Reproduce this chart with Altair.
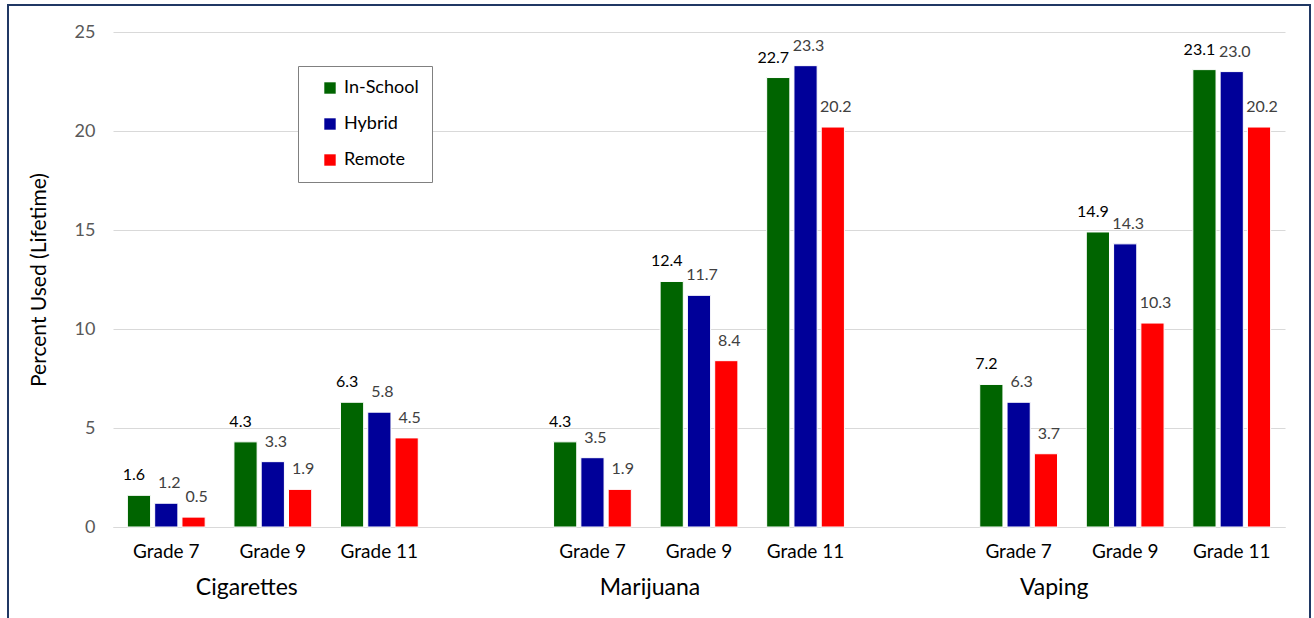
import altair as alt
import pandas as pd

substances = ["Cigarettes", "Marijuana", "Vaping"]
grades = ["Grade 7", "Grade 9", "Grade 11"]
modes = ["In-School", "Hybrid", "Remote"]
mode_colors = ["#006400", "#000099", "#FF0000"]

# values[substance][grade] = [In-School, Hybrid, Remote]
cigarettes = [[1.6, 1.2, 0.5], [4.3, 3.3, 1.9], [6.3, 5.8, 4.5]]
marijuana = [[4.3, 3.5, 1.9], [12.4, 11.7, 8.4], [22.7, 23.3, 20.2]]
vaping = [[7.2, 6.3, 3.7], [14.9, 14.3, 10.3], [23.1, 23.0, 20.2]]
series = {"Cigarettes": cigarettes, "Marijuana": marijuana, "Vaping": vaping}

FONT = "Lato"
W, H = 1172, 495

slots = []
for i, s in enumerate(substances):
    for g in grades:
        slots.append(f"{s}|{g}")
    if i < len(substances) - 1:
        slots.append(f"gap{i}")

rows = []
for s in substances:
    for gi, g in enumerate(grades):
        for mi, m in enumerate(modes):
            rows.append({"substance": s, "grade": g, "mode": m,
                         "value": series[s][gi][mi], "slot": f"{s}|{g}"})
df = pd.DataFrame(rows)

lab_df = pd.DataFrame({"substance": substances,
                       "slot": [f"{s}|Grade 9" for s in substances]})

x_enc = alt.X("slot:N", scale=alt.Scale(domain=slots, paddingInner=0.27, paddingOuter=0.135),
              axis=alt.Axis(title=None, labelAngle=0, ticks=False, domain=True,
                            domainColor="#d9d9d9", labelColor="#000000",
                            labelFontSize=19, labelPadding=15, labelFont=FONT,
                            labelExpr="indexof(datum.label,'|')>=0 ? split(datum.label,'|')[1] : ''"))
y_enc = alt.Y("value:Q", scale=alt.Scale(domain=[0, 25], range=[H, 0], nice=False),
              axis=alt.Axis(title="Percent Used (Lifetime)", values=[0, 5, 10, 15, 20, 25],
                            grid=True, gridColor="#d9d9d9", domain=False, ticks=False,
                            labelColor="#595959", labelFontSize=18, labelPadding=18,
                            labelFont=FONT, titleFont=FONT, titleFontSize=21,
                            titleFontWeight="normal", titleColor="#000000", titlePadding=25))
xoff = alt.XOffset("mode:N", sort=modes, scale=alt.Scale(domain=modes, paddingInner=0.15))

bars = alt.Chart(df).mark_bar(stroke="white", strokeWidth=1).encode(
    x=x_enc, y=y_enc, xOffset=xoff,
    color=alt.Color("mode:N", sort=modes,
                    scale=alt.Scale(domain=modes, range=mode_colors),
                    legend=alt.Legend(title=None, orient="none", legendX=185, legendY=34,
                                      strokeColor="#808080", fillColor="white", padding=13,
                                      symbolOffset=10,
                                      symbolType="square", symbolSize=130, symbolStrokeWidth=0,
                                      labelFontSize=18, labelFont=FONT, labelColor="#000000",
                                      rowPadding=18, labelOffset=5)),
)

label_style = {"In-School": ("#000000", -5), "Hybrid": ("#404040", 3), "Remote": ("#404040", 3)}
label_layers = []
for m in modes:
    col, shift = label_style[m]
    label_layers.append(
        alt.Chart(df).transform_filter(f"datum.mode == '{m}'").mark_text(
            fontSize=16, font=FONT, dy=-20, dx=shift, color=col).encode(
            x=alt.X("slot:N", scale=alt.Scale(domain=slots)), xOffset=xoff,
            y="value:Q", text=alt.Text("value:Q", format=".1f"))
    )

label_shift = {"Cigarettes": -26, "Marijuana": -49, "Vaping": -71}
group_layers = []
for s in substances:
    group_layers.append(
        alt.Chart(lab_df).transform_filter(f"datum.substance == '{s}'").mark_text(
            fontSize=23, font=FONT, color="#000000", dy=61, dx=label_shift[s]).encode(
            x=alt.X("slot:N", scale=alt.Scale(domain=slots)), y=alt.datum(0),
            text="substance:N")
    )

frame = alt.Chart(lab_df).mark_rect(fill=None, stroke="#203864", strokeWidth=2).encode(
    x=alt.value(-105), x2=alt.value(1197), y=alt.value(-27), y2=alt.value(640))

chart = alt.layer(bars, *label_layers, *group_layers, frame).properties(
    width=W, height=H,
    autosize=alt.AutoSizeParams(type="none"),
    padding={"left": 113, "top": 32, "right": 29, "bottom": 91},
    background="white",
).configure_view(stroke=None)

chart.save("out.html", embed_options={"renderer": "svg", "actions": False})
